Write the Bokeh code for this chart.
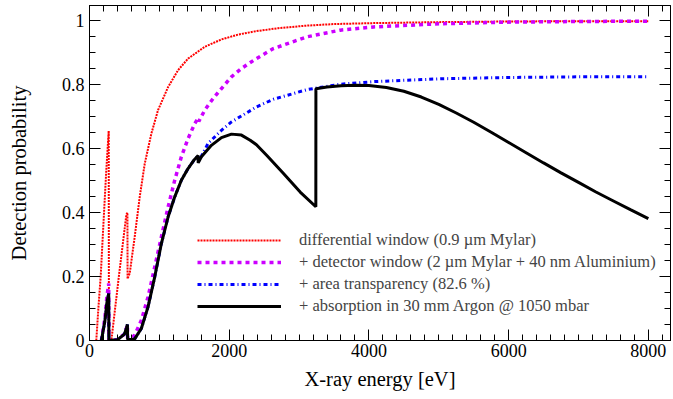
from bokeh.plotting import figure
from bokeh.models import (Range1d, LinearAxis, SingleIntervalTicker, Legend, LegendItem,
                          CustomJSTickFormatter)
from bokeh.embed import file_html
from bokeh.resources import INLINE

# ---- data ----
red_E = [97, 130, 160, 208, 240, 265, 275, 278, 313, 420, 528, 543, 545, 576, 647, 719, 791, 886,
         981, 1125, 1268, 1411, 1650, 1889, 2127, 2390, 2700, 3100, 3500, 4066, 5000, 6000, 7000,
         8000]
red_P = [0.0, 0.11, 0.2, 0.4, 0.53, 0.62, 0.655, 0.0, 0.0, 0.2, 0.394, 0.40, 0.193, 0.21, 0.324,
         0.449, 0.553, 0.647, 0.72, 0.792, 0.845, 0.881, 0.918, 0.941, 0.956, 0.967, 0.976, 0.984,
         0.989, 0.992, 0.995, 0.997, 0.998, 0.998]

mag_E = [170, 220, 250, 275, 278, 400, 500, 530, 543, 546, 600, 647, 742, 838, 934, 1029, 1125,
         1220, 1315, 1411, 1507, 1555, 1565, 1650, 1769, 1889, 2032, 2175, 2366, 2633, 3112, 3589,
         4066, 5021, 5977, 7000, 8000]
mag_P = [0.0, 0.07, 0.14, 0.178, 0.0, 0.003, 0.02, 0.04, 0.048, 0.005, 0.008, 0.017, 0.063, 0.136,
         0.23, 0.324, 0.417, 0.501, 0.574, 0.631, 0.678, 0.695, 0.685, 0.72, 0.756, 0.7875, 0.824,
         0.85, 0.878, 0.9125, 0.949, 0.97, 0.98, 0.99, 0.995, 0.997, 0.998]

blue_E = [170, 220, 250, 275, 278, 400, 500, 530, 543, 546, 600, 647, 742, 838, 934, 1029, 1125,
          1220, 1315, 1411, 1500, 1555, 1556, 1602, 1698, 1889, 2032, 2390, 2633, 3112, 3589, 4066,
          5021, 5977, 7000, 8000]
blue_P = [0.0, 0.06, 0.12, 0.147, 0.0, 0.002, 0.02, 0.04, 0.05, 0.004, 0.003, 0.005, 0.0375, 0.105,
          0.199, 0.303, 0.386, 0.449, 0.501, 0.5375, 0.565, 0.578, 0.558, 0.576, 0.616, 0.657,
          0.683, 0.73, 0.754, 0.784, 0.801, 0.809, 0.818, 0.822, 0.824, 0.824]

blk_E = [170, 220, 250, 275, 278, 400, 500, 530, 543, 546, 600, 647, 742, 838, 934, 1029, 1125,
         1220, 1315, 1411, 1500, 1555, 1556, 1602, 1745, 1889, 2032, 2175, 2300, 2390, 2539, 2777,
         3016, 3240, 3241, 3400, 3600, 3800, 4000, 4250, 4500, 4750, 5000, 5250, 5500, 5750, 6000,
         6250, 6500, 6750, 7000, 7250, 7500, 7750, 8000]
blk_P = [0.0, 0.06, 0.12, 0.147, 0.0, 0.002, 0.02, 0.04, 0.05, 0.004, 0.003, 0.005, 0.0375, 0.105,
         0.199, 0.303, 0.386, 0.449, 0.501, 0.5375, 0.565, 0.578, 0.555, 0.574, 0.61, 0.634, 0.645,
         0.642, 0.626, 0.612, 0.578, 0.522, 0.464, 0.418, 0.787, 0.792, 0.796, 0.798, 0.797, 0.791,
         0.779, 0.761, 0.738, 0.711, 0.682, 0.651, 0.619, 0.587, 0.555, 0.524, 0.494, 0.464, 0.436,
         0.408, 0.381]

labels = ["differential window (0.9 \u00b5m Mylar)",
          "+ detector window (2 \u00b5m Mylar + 40 nm Aluminium)",
          "+ area transparency (82.6 %)",
          "+ absorption in 30 mm Argon @ 1050 mbar"]

FONT = "Liberation Serif"

p = figure(width=671, height=397, output_backend="svg", toolbar_location=None,
           x_range=Range1d(0, 8317), y_range=Range1d(0, 1.047),
           min_border_left=89, min_border_right=1, min_border_top=5, min_border_bottom=57)
p.xgrid.visible = False
p.ygrid.visible = False
p.outline_line_color = "black"
p.outline_line_width = 1
p.background_fill_color = "white"
p.border_fill_color = "white"

r1 = p.line(red_E, red_P, line_color="#ff0000", line_width=2, line_dash="2 1")
r2 = p.line(mag_E, mag_P, line_color="#cc00ff", line_width=3.5, line_dash="4 4")
r3 = p.line(blue_E, blue_P, line_color="#0000ff", line_width=3, line_dash="4 3 1 3")
r4 = p.line(blk_E, blk_P, line_color="black", line_width=3)

yfmt = CustomJSTickFormatter(code="return String(Math.round(tick*10)/10)")
empty_fmt = CustomJSTickFormatter(code="return ''")


def style_axis(ax, ticker, labels_on):
    ax.ticker = ticker
    ax.major_tick_in = 11
    ax.major_tick_out = 0
    ax.minor_tick_in = 6
    ax.minor_tick_out = 0
    ax.axis_line_color = "black"
    ax.major_tick_line_color = "black"
    ax.minor_tick_line_color = "black"
    ax.major_label_text_font = FONT
    ax.major_label_text_font_size = "18px"
    ax.major_label_text_color = "black"
    ax.axis_label_text_font = FONT
    ax.axis_label_text_font_size = "20.5px"
    ax.axis_label_text_font_style = "normal"
    ax.axis_label_text_color = "black"
    if not labels_on:
        ax.formatter = empty_fmt
        ax.major_label_standoff = 0


style_axis(p.xaxis[0], SingleIntervalTicker(interval=2000, num_minor_ticks=10), True)
style_axis(p.yaxis[0], SingleIntervalTicker(interval=0.2, num_minor_ticks=4), True)
p.yaxis[0].formatter = yfmt
p.xaxis[0].axis_label = "X-ray energy [eV]"
p.yaxis[0].axis_label = "Detection probability"
p.xaxis[0].major_label_standoff = 3
p.yaxis[0].major_label_standoff = 5
p.xaxis[0].axis_label_standoff = 8
p.yaxis[0].axis_label_standoff = 29

top = LinearAxis()
style_axis(top, SingleIntervalTicker(interval=2000, num_minor_ticks=10), False)
p.add_layout(top, "above")
right = LinearAxis()
style_axis(right, SingleIntervalTicker(interval=0.2, num_minor_ticks=4), False)
p.add_layout(right, "right")

legend = Legend(items=[LegendItem(label=labels[0], renderers=[r1]),
                       LegendItem(label=labels[1], renderers=[r2]),
                       LegendItem(label=labels[2], renderers=[r3]),
                       LegendItem(label=labels[3], renderers=[r4])],
                location=(108, 23), glyph_width=84, glyph_height=22, label_height=22,
                label_standoff=18, spacing=0, padding=0, margin=0,
                label_text_font=FONT, label_text_font_size="16.5px",
                background_fill_alpha=0, border_line_color=None)
p.add_layout(legend)

open("out.html", "w").write(file_html(p, INLINE))
